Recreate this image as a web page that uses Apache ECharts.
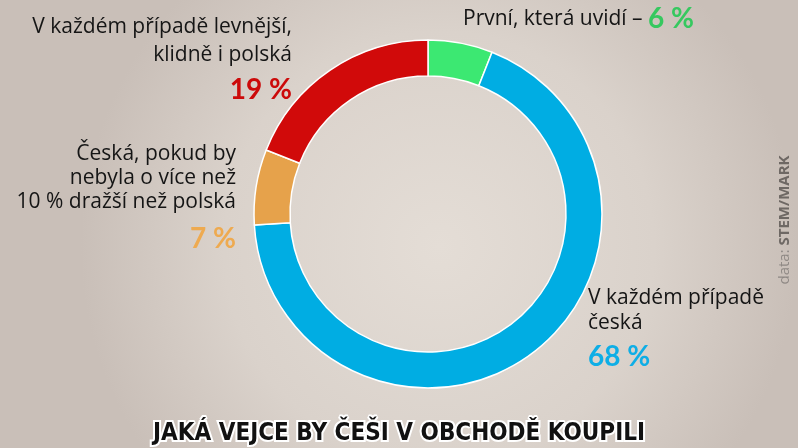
<!DOCTYPE html>
<html><head><meta charset="utf-8">
<script src="https://cdn.jsdelivr.net/npm/echarts@6/dist/echarts.min.js"></script>
<style>html,body{margin:0;padding:0;}#c{width:798px;height:448px;}</style>
</head><body><div id="c"></div>
<script>
const categories = ['První, která uvidí', 'V každém případě česká', 'Česká, pokud by nebyla o více než 10 % dražší než polská', 'V každém případě levnější, klidně i polská'];
const values = [6, 68, 7, 19];
const sliceColors = ['#3ce872', '#00ade3', '#e6a24b', '#d10a0a'];
const labelColors = ['#36c85f', '#0eaee6', '#eeaa50', '#cc0a0a'];
const titleText = 'JAKÁ VEJCE BY ČEŠI V OBCHODĚ KOUPILI';
const sourceText = ['data: ', 'STEM/MARK'];

const chart = echarts.init(document.getElementById('c'));
const F = '"Open Sans", Lato, sans-serif';
const PF = 'Lato, "Open Sans", sans-serif';
const pct = i => values[i] + ' %';
const lines = (arr, x, y0, dy, align) => arr.map((t, k) => ({
  type: 'text', left: align === 'right' ? null : x, right: align === 'right' ? 798 - x : null, top: y0 + k * dy,
  style: { text: t, fill: '#151515', font: '21px ' + F, textAlign: align }
}));
const graphics = [].concat(
  lines(['V každém případě levnější,', 'klidně i polská'], 292, 17, 28, 'right'),
  [{ type: 'text', right: 798 - 292, top: 76, style: { text: pct(3), fill: labelColors[3], font: 'bold 28px ' + PF } }],
  lines(['Česká, pokud by', 'nebyla o více než', '10 % dražší než polská'], 236, 144, 24, 'right'),
  [{ type: 'text', right: 798 - 236, top: 225, style: { text: pct(2), fill: labelColors[2], font: 'bold 28px ' + PF } }],
  [{ type: 'text', left: 463, top: 5, style: { rich: { a: { fill: '#151515', font: '21px ' + F }, b: { fill: labelColors[0], font: 'bold 28px ' + PF } }, text: '{a|První, která uvidí – }{b|' + pct(0) + '}' } }],
  lines(['V každém případě', 'česká'], 588, 288, 25, 'left'),
  [{ type: 'text', left: 588, top: 343, style: { text: pct(1), fill: labelColors[1], font: 'bold 28px ' + PF } }],
  [{ type: 'text', x: 785, y: 220, rotation: Math.PI / 2, style: { rich: { a: { fill: '#8f8985', font: '15px ' + F }, b: { fill: '#6e6864', font: 'bold 15px ' + F } }, text: '{a|' + sourceText[0] + '}{b|' + sourceText[1] + '}', textAlign: 'center', textVerticalAlign: 'middle' } }],
  [{ type: 'text', left: 'center', top: 420, style: { text: titleText, fill: '#111', stroke: '#fff', lineWidth: 4, font: 'bold 24px "DejaVu Sans Condensed", "Liberation Sans Narrow", sans-serif' } }]
);

chart.setOption({
  backgroundColor: {
    type: 'radial', x: 0.55, y: 0.55, r: 0.8,
    colorStops: [{ offset: 0, color: '#e4ddd6' }, { offset: 0.6, color: '#dad2cb' }, { offset: 1, color: '#c9bfb8' }]
  },
  series: [{
    type: 'pie', center: [428, 214], radius: [138, 174], startAngle: 90, clockwise: true,
    label: { show: false }, labelLine: { show: false }, silent: true, animation: false,
    itemStyle: { borderColor: '#fff', borderWidth: 1.5 },
    data: categories.map((c, i) => ({ name: c, value: values[i], itemStyle: { color: sliceColors[i] } }))
  }],
  graphic: graphics
});
</script></body></html>
